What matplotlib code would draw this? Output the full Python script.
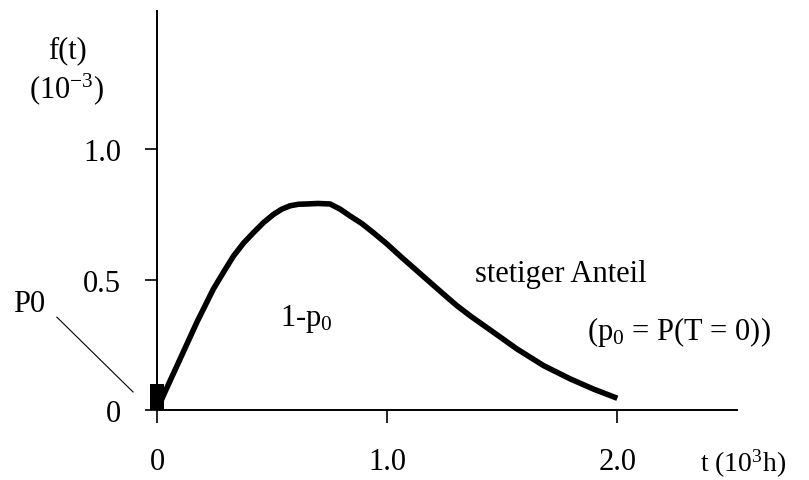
import matplotlib.pyplot as plt
import numpy as np

plt.rcParams['font.family'] = ['Liberation Serif', 'DejaVu Serif']
plt.rcParams['mathtext.fontset'] = 'custom'
plt.rcParams['mathtext.rm'] = 'Liberation Serif'
plt.rcParams['mathtext.it'] = 'Liberation Serif:italic'

# continuous part f(t) (t in 10^3 h, f in 10^-3)
t_vals = [0, 0.035, 0.10, 0.173, 0.245, 0.290, 0.332, 0.376, 0.419, 0.462,
          0.506, 0.542, 0.578, 0.615, 0.651, 0.700, 0.752, 0.796, 0.839,
          0.890, 0.940, 1.000, 1.057, 1.115, 1.173, 1.240, 1.303, 1.361,
          1.462, 1.564, 1.68, 1.796, 1.897, 2.0]
f_vals = [0, 0.07, 0.195, 0.336, 0.464, 0.530, 0.59, 0.640, 0.68, 0.718,
          0.75, 0.770, 0.783, 0.789, 0.79, 0.792, 0.79, 0.77, 0.744,
          0.715, 0.68, 0.636, 0.59, 0.545, 0.50, 0.448, 0.40, 0.361,
          0.298, 0.234, 0.17, 0.119, 0.08, 0.045]

# point mass at t = 0
p0_t = [0]
p0_height = [0.10]

x_ticks = [0, 1.0, 2.0]
x_ticklabels = ['0', '1.0', '2.0']
y_ticks = [0, 0.5, 1.0]
y_ticklabels = ['0', '0.5', '1.0']

fig = plt.figure(figsize=(8.09, 4.81), dpi=100)
ax = fig.add_axes([157/809, 70/481, 580/809, 399/481])

ax.plot(t_vals, f_vals, color='black', lw=4, solid_capstyle='butt',
        solid_joinstyle='round')
ax.bar(p0_t, p0_height, width=0.057, color='black', clip_on=False)

ax.set_xlim(0, 2.52)
ax.set_ylim(0, 1.53)
ax.spines['top'].set_visible(False)
ax.spines['right'].set_visible(False)
ax.spines['left'].set_linewidth(1.4)
ax.spines['bottom'].set_linewidth(1.4)

ax.set_xticks(x_ticks, x_ticklabels)
ax.set_yticks(y_ticks, y_ticklabels)
ax.tick_params(axis='x', direction='out', length=9, width=1.2, pad=18, labelsize=22)
ax.tick_params(axis='y', direction='out', length=9, width=1.2, pad=17, labelsize=22)

# labels and annotations
ax.text(-0.391, 1.383, 'f(t)', fontsize=22, ha='center', va='center', clip_on=False)
ax.text(-0.391, 1.20, '(10$^{-3}$)', fontsize=22, ha='center', va='baseline', clip_on=False)
ax.text(2.36, -0.232, 't (10$^{3}$h)', fontsize=20, ha='left', va='baseline', clip_on=False)
ax.text(1.383, 0.494, 'stetiger Anteil', fontsize=22, ha='left', va='baseline')
ax.text(1.87, 0.272, r'(p$_0$ = P(T = 0))', fontsize=22, ha='left', va='baseline')
ax.text(0.535, 0.326, r'1-p$_0$', fontsize=22, ha='left', va='baseline')
ax.text(-0.626, 0.38, 'P0', fontsize=22, ha='left', va='baseline', clip_on=False)
ax.plot([-0.435, -0.104], [0.356, 0.069], color='black', lw=0.8, clip_on=False)

fig.savefig('out.png', dpi=100)
plt.close()
